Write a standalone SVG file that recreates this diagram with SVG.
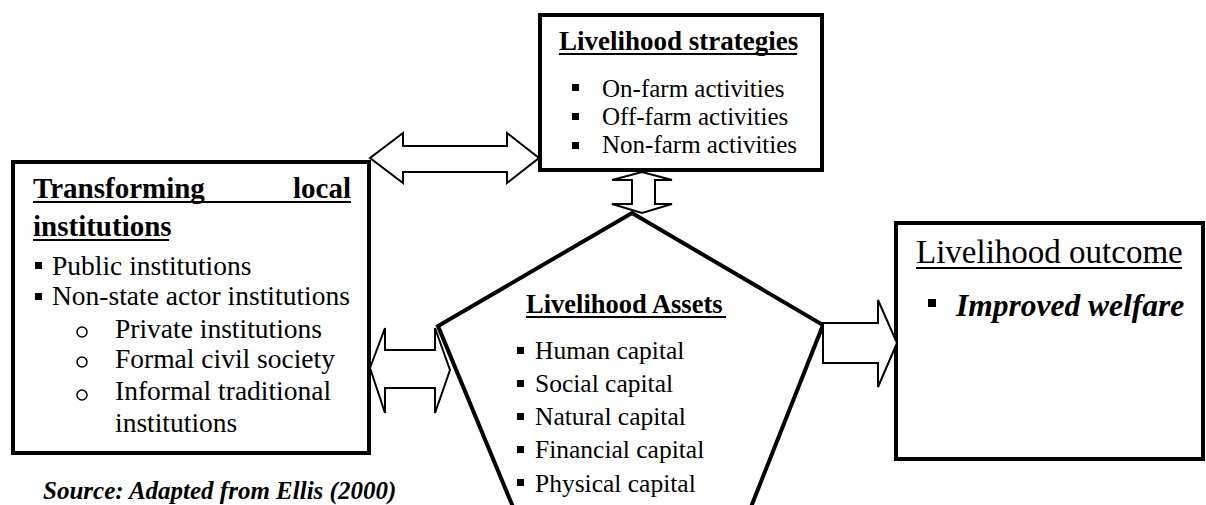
<svg xmlns="http://www.w3.org/2000/svg" width="1206" height="505" viewBox="0 0 1206 505">
<style>
.box{fill:#fff;stroke:#000;stroke-width:4}
.arr{fill:#fff;stroke:#000;stroke-width:2;stroke-linejoin:miter}
.ul{stroke:#000;stroke-width:2}
.sq{fill:#000}
.ci{fill:none;stroke:#000;stroke-width:1.5}
</style>
<rect width="1206" height="505" fill="#fff"/>
<g id="assets">
<polygon class="box" points="632,213 823,325 730,560 535,560 438,326"/>
<text x="526" y="313" font-size="26.5" font-weight="bold" font-family="'Liberation Serif', serif">Livelihood Assets</text>
<line class="ul" x1="526" y1="317" x2="726" y2="317"/>
<rect class="sq" x="517" y="347" width="7" height="7"/>
<text x="535" y="359" font-size="25.5" font-family="'Liberation Serif', serif">Human capital</text>
<rect class="sq" x="517" y="380" width="7" height="7"/>
<text x="535" y="392" font-size="25.5" font-family="'Liberation Serif', serif">Social capital</text>
<rect class="sq" x="517" y="413" width="7" height="7"/>
<text x="535" y="425" font-size="25.5" font-family="'Liberation Serif', serif">Natural capital</text>
<rect class="sq" x="517" y="446" width="7" height="7"/>
<text x="535" y="458" font-size="25.5" font-family="'Liberation Serif', serif">Financial capital</text>
<rect class="sq" x="517" y="479" width="7" height="7"/>
<text x="535" y="492" font-size="25.5" font-family="'Liberation Serif', serif">Physical capital</text>
</g>
<g id="strategies">
<rect class="box" x="540" y="15" width="282" height="155"/>
<text x="559" y="50" font-size="27" font-weight="bold" font-family="'Liberation Serif', serif">Livelihood strategies</text>
<line class="ul" x1="559" y1="54" x2="797" y2="54"/>
<rect class="sq" x="572" y="84" width="7" height="7"/>
<text x="602" y="97" font-size="25" font-family="'Liberation Serif', serif">On-farm activities</text>
<rect class="sq" x="572" y="113" width="7" height="7"/>
<text x="602" y="125" font-size="25" font-family="'Liberation Serif', serif">Off-farm activities</text>
<rect class="sq" x="572" y="142" width="7" height="7"/>
<text x="602" y="153" font-size="25" font-family="'Liberation Serif', serif">Non-farm activities</text>
</g>
<g id="institutions">
<rect class="box" x="13" y="162" width="356" height="291"/>
<text x="33" y="198" font-size="29" font-weight="bold" font-family="'Liberation Serif', serif">Transforming</text>
<text x="351" y="198" font-size="29" font-weight="bold" text-anchor="end" font-family="'Liberation Serif', serif">local</text>
<line class="ul" x1="33" y1="202" x2="351" y2="202"/>
<text x="33" y="236" font-size="29" font-weight="bold" font-family="'Liberation Serif', serif">institutions</text>
<line class="ul" x1="33" y1="240" x2="169" y2="240"/>
<rect class="sq" x="35" y="262" width="7" height="7"/>
<text x="52" y="275" font-size="27.5" font-family="'Liberation Serif', serif">Public institutions</text>
<rect class="sq" x="35" y="293" width="7" height="7"/>
<text x="52" y="305" font-size="27.5" font-family="'Liberation Serif', serif">Non-state actor institutions</text>
<circle class="ci" cx="82" cy="332" r="5"/>
<text x="115" y="338" font-size="27.5" font-family="'Liberation Serif', serif">Private institutions</text>
<circle class="ci" cx="82" cy="362" r="5"/>
<text x="115" y="368" font-size="27.5" font-family="'Liberation Serif', serif">Formal civil society</text>
<circle class="ci" cx="82" cy="395" r="5"/>
<text x="115" y="400" font-size="27.5" font-family="'Liberation Serif', serif">Informal traditional</text>
<text x="115" y="432" font-size="27.5" font-family="'Liberation Serif', serif">institutions</text>
</g>
<g id="outcome">
<rect class="box" x="896" y="223" width="307" height="236"/>
<text x="916" y="263" font-size="33" font-family="'Liberation Serif', serif">Livelihood outcome</text>
<line class="ul" x1="916" y1="268" x2="1182" y2="268"/>
<rect class="sq" x="928" y="299" width="8" height="8"/>
<text x="956" y="316" font-size="31.5" font-weight="bold" font-style="italic" font-family="'Liberation Serif', serif">Improved welfare</text>
</g>
<g id="source">
<text x="43" y="499" font-size="25" font-weight="bold" font-style="italic" font-family="'Liberation Serif', serif">Source: Adapted from Ellis (2000)</text>
</g>
<g id="connectors">
<polygon class="arr" points="370,158 403,133 403,146 507,146 507,133 539,158 507,183 507,172 403,172 403,183"/>
<polygon class="arr" points="642,172 672,180 655,180 655,204 672,204 642,213 612,204 632,204 632,180 612,180"/>
<polygon class="arr" points="370,368 385,328 385,350 435,350 435,328 450,370 435,413 435,388 385,388 385,413"/>
<polygon class="arr" points="823,323 878,323 878,300 897,343 878,387 878,363 823,363"/>
</g>
</svg>
